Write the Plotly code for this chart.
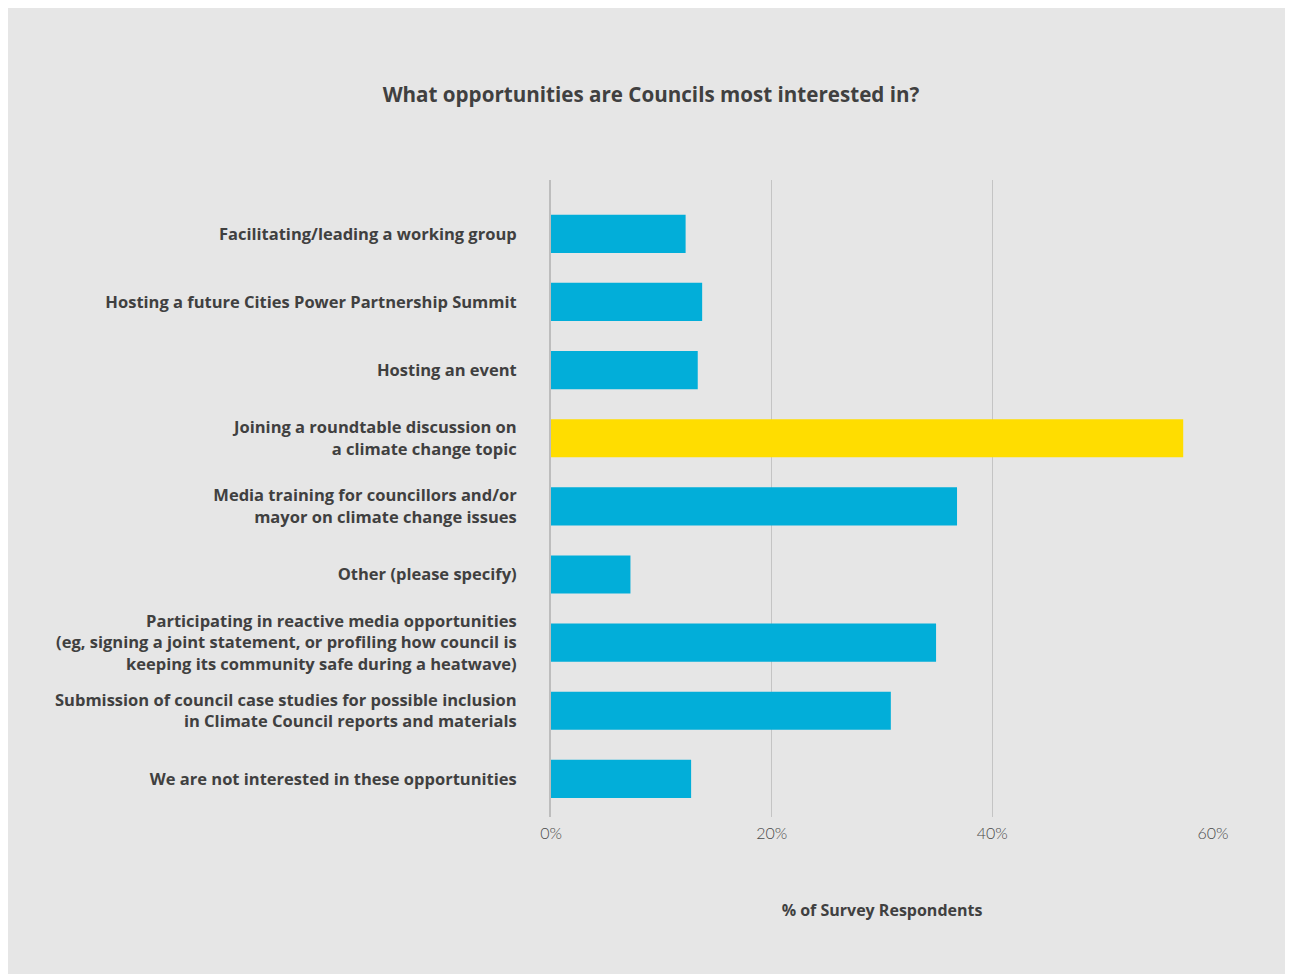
import plotly.graph_objects as go

categories = [
    "Facilitating/leading a working group",
    "Hosting a future Cities Power Partnership Summit",
    "Hosting an event",
    "Joining a roundtable discussion on<br>a climate change topic",
    "Media training for councillors and/or<br>mayor on climate change issues",
    "Other (please specify)",
    "Participating in reactive media opportunities<br>(eg, signing a joint statement, or profiling how council is<br>keeping its community safe during a heatwave)",
    "Submission of council case studies for possible inclusion<br>in Climate Council reports and materials",
    "We are not interested in these opportunities",
]
values = [12.2, 13.7, 13.3, 57.3, 36.8, 7.2, 34.9, 30.8, 12.7]
highlight = "Joining a roundtable discussion on<br>a climate change topic"
tick_vals = [0, 20, 40, 60]
tick_text = ["0%", "20%", "40%", "60%"]

BLUE = "#02aed9"
YELLOW = "#ffdd00"
BG = "#e6e6e6"
TEXT = "#404040"

colors = [YELLOW if c == highlight else BLUE for c in categories]
idx = list(range(len(categories)))

fig = go.Figure(go.Bar(
    x=values, y=idx, orientation="h",
    marker=dict(color=colors, line=dict(width=0)),
    width=0.56,
    hoverinfo="x",
))

fig.update_layout(
    width=1286, height=966,
    paper_bgcolor=BG, plot_bgcolor=BG,
    margin=dict(l=543, r=81, t=172, b=157),
    title=dict(text="<b>What opportunities are Councils most interested in?</b>",
               x=0.5, xanchor="center", y=1 - 87 / 966, yanchor="middle",
               font=dict(family="Open Sans", size=20.6, color=TEXT)),
    font=dict(family="Open Sans", color=TEXT),
    showlegend=False,
)

fig.update_xaxes(
    range=[0, 60], tickvals=tick_vals, ticktext=tick_text,
    showgrid=True, gridcolor="#c4c4c4", gridwidth=1,
    zeroline=False, showline=False,
    tickfont=dict(family="Lato Light, Lato", size=16, color="#4a4a4a"),
    ticks="", ticklabelstandoff=5,
    title=dict(text="<b>% of Survey Respondents</b>", standoff=63,
               font=dict(family="Open Sans", size=16, color=TEXT)),
)
fig.update_yaxes(
    tickvals=idx, ticktext=[f"<b>{c}</b>" for c in categories],
    range=[8.56, -0.79],
    showgrid=False, zeroline=False,
    showline=True, linecolor="#bdbdbd", linewidth=2,
    tickfont=dict(family="Open Sans", size=16.5, color=TEXT),
    ticks="", ticklabelstandoff=29,
)

fig.write_html("out.html")
